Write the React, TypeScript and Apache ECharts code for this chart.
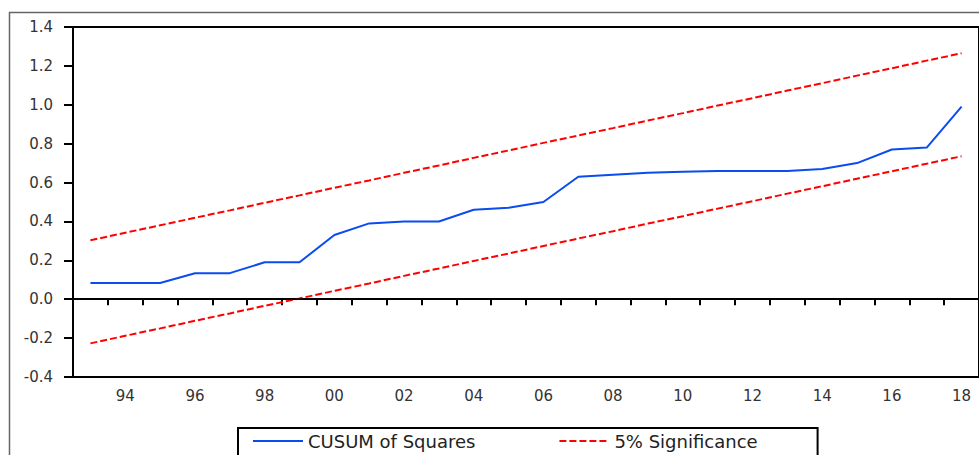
import React, { useEffect, useRef } from "react";
import * as echarts from "echarts";

const years = [
  "1993", "1994", "1995", "1996", "1997", "1998", "1999", "2000", "2001",
  "2002", "2003", "2004", "2005", "2006", "2007", "2008", "2009", "2010",
  "2011", "2012", "2013", "2014", "2015", "2016", "2017", "2018",
];

const cusumSquares = [
  0.083, 0.083, 0.083, 0.134, 0.134, 0.19, 0.19, 0.33, 0.39, 0.4, 0.4, 0.46,
  0.47, 0.5, 0.63, 0.64, 0.65, 0.655, 0.66, 0.66, 0.66, 0.67, 0.7, 0.77, 0.78,
  0.99,
];

const upperBound = [
  0.303, 0.342, 0.38, 0.419, 0.457, 0.496, 0.534, 0.573, 0.611, 0.65, 0.688,
  0.727, 0.765, 0.804, 0.842, 0.88, 0.919, 0.957, 0.996, 1.034, 1.073, 1.111,
  1.15, 1.188, 1.227, 1.265,
];

const lowerBound = [
  -0.227, -0.188, -0.15, -0.111, -0.073, -0.034, 0.004, 0.043, 0.081, 0.12,
  0.158, 0.197, 0.235, 0.274, 0.312, 0.35, 0.389, 0.427, 0.466, 0.504, 0.543,
  0.581, 0.62, 0.658, 0.697, 0.735,
];

const yMin = -0.4;
const yMax = 1.4;
const yStep = 0.2;

const FONT = "DejaVu Sans";

export default function App() {
  const ref = useRef<HTMLDivElement>(null);

  useEffect(() => {
    if (!ref.current) return;
    const chart = echarts.init(ref.current, null, { renderer: "svg" });
    chart.setOption({
      animation: false,
      backgroundColor: "#ffffff",
      graphic: [
        {
          type: "rect",
          shape: { x: 9.5, y: 12.5, width: 1000, height: 500 },
          style: { fill: "none", stroke: "#666666", lineWidth: 1.5 },
          silent: true,
          z: -1,
        },
      ],
      grid: {
        left: 73,
        top: 27,
        width: 911,
        height: 350,
        show: true,
        borderColor: "#000000",
        borderWidth: 2,
        backgroundColor: "transparent",
      },
      legend: {
        left: 238,
        top: 428,
        padding: [4, 60, 6, 14],
        borderColor: "#000000",
        borderWidth: 2,
        borderRadius: 0,
        itemWidth: 50,
        itemHeight: 14,
        itemGap: 83,
        itemStyle: { opacity: 0 },
        textStyle: {
          fontFamily: FONT,
          fontSize: 18,
          color: "#222222",
        },
        data: ["CUSUM of Squares", "5% Significance"],
      },
      xAxis: {
        type: "category",
        data: years,
        boundaryGap: true,
        axisLine: { show: true, lineStyle: { color: "#000000", width: 2 } },
        axisTick: {
          show: true,
          interval: 0,
          length: 6,
          lineStyle: { color: "#000000", width: 2 },
        },
        axisLabel: {
          interval: (index: number) => index % 2 === 1,
          formatter: (v: string) => v.slice(2),
          fontFamily: FONT,
          fontSize: 15,
          color: "#333333",
          margin: 11,
        },
        splitLine: { show: false },
      },
      yAxis: {
        type: "value",
        min: yMin,
        max: yMax,
        interval: yStep,
        axisLine: { show: true, lineStyle: { color: "#000000", width: 2 } },
        axisTick: {
          show: true,
          length: 9,
          lineStyle: { color: "#000000", width: 2 },
        },
        axisLabel: {
          formatter: (v: number) => v.toFixed(1),
          fontFamily: FONT,
          fontSize: 15,
          color: "#333333",
          margin: 20,
        },
        splitLine: { show: false },
      },
      series: [
        {
          name: "CUSUM of Squares",
          type: "line",
          data: cusumSquares,
          symbol: "none",
          lineStyle: { color: "#0a4cf0", width: 2 },
          itemStyle: { color: "#0a4cf0" },
          z: 3,
          markLine: {
            silent: true,
            symbol: ["none", "none"],
            label: { show: false },
            lineStyle: { color: "#000000", width: 1.5, type: "solid" },
            data: [{ yAxis: 0 }],
          },
        },
        {
          name: "5% Significance",
          type: "line",
          data: upperBound,
          symbol: "none",
          lineStyle: { color: "#ff0000", width: 2, type: [7, 3] },
          itemStyle: { color: "#ff0000" },
          z: 2,
        },
        {
          name: "5% Significance",
          type: "line",
          data: lowerBound,
          symbol: "none",
          lineStyle: { color: "#ff0000", width: 2, type: [7, 3] },
          itemStyle: { color: "#ff0000" },
          z: 2,
        },
      ],
    });
    return () => chart.dispose();
  }, []);

  return (
    <div
      ref={ref}
      style={{ position: "absolute", left: 0, top: 0, width: 979, height: 455 }}
    />
  );
}
